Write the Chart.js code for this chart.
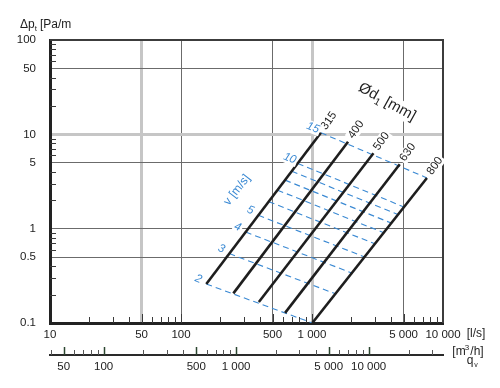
<!DOCTYPE html>
<html>
<head>
<meta charset="utf-8">
<script src="https://cdn.jsdelivr.net/npm/chart.js@4.4.1/dist/chart.umd.min.js"></script>
<style>
  html, body { margin: 0; padding: 0; background: #fff; }
  canvas { display: block; }
</style>
</head>
<body>
<canvas id="chart" width="500" height="388"></canvas>
<script>
// ── Axis ticks ────────────────────────────────────────────────────────────────
const flowTicks      = [10, 50, 100, 500, 1000, 5000, 10000];            // l/s
const flowTickLabels = ["10", "50", "100", "500", "1 000", "5 000", "10 000"];
const flowMinor      = [20, 30, 40, 60, 70, 80, 90, 200, 300, 400, 600, 700, 800, 900,
                        2000, 3000, 4000, 6000, 7000, 8000, 9000];
const dpTicks        = [0.1, 0.5, 1, 5, 10, 50, 100];                     // Pa/m
const dpTickLabels   = ["0.1", "0.5", "1", "5", "10", "50", "100"];
const dpMinor        = [0.2, 0.3, 0.4, 0.6, 0.7, 0.8, 0.9, 2, 3, 4, 6, 7, 8, 9,
                        20, 30, 40, 60, 70, 80, 90];
const m3hTicks       = [50, 100, 500, 1000, 5000, 10000];                 // m³/h
const m3hTickLabels  = ["50", "100", "500", "1 000", "5 000", "10 000"];
const m3hMinor       = [40, 60, 70, 80, 90, 200, 300, 400, 600, 700, 800, 900,
                        2000, 3000, 4000, 6000, 7000, 8000, 9000, 20000, 30000];

// ── Duct lines (one per diameter, from v = 2 m/s to v = 15 m/s) ───────────────
const diameters = [315, 400, 500, 630, 800];                // mm
const qAtV2     = [156, 251, 393, 623, 1005];               // l/s
const qAtV15    = [1169, 1885, 2945, 4676, 7540];
const dpAtV2    = [0.259, 0.206, 0.167, 0.128, 0.1];        // Pa/m
const dpAtV15   = [10.4, 8.36, 6.29, 4.81, 3.45];

// ── Velocity lines (dashed, from the Ø315 line to the Ø800 line) ──────────────
const velocities = [2, 3, 4, 5, 6, 7, 8, 9, 10, 15];        // m/s
const q315       = [156, 234, 312, 390, 468, 546, 623, 701, 779, 1169];
const dp315      = [0.259, 0.544, 0.921, 1.385, 1.934, 2.56, 3.27, 4.06, 4.92, 10.4];
const q800       = [1005, 1508, 2011, 2513, 3016, 3519, 4021, 4524, 5027, 7540];
const dp800      = [0.1, 0.204, 0.339, 0.502, 0.691, 0.907, 1.147, 1.412, 1.70, 3.45];
const labelledVelocities = [2, 3, 4, 5, 10, 15];

const FONT  = "'Liberation Sans', Arial, Helvetica, sans-serif";
const BLUE  = "#3a89d3";
const INK   = "#1e1e1e";
const GRID_DARK  = "#6b6b6b";
const GRID_LIGHT = "#c6c6c6";
const lightFlowGrid = [50, 1000];
const lightDpGrid   = [10];

function gridColour(ctx, edges, light) {
  if (!ctx.tick) return "transparent";
  const v = ctx.tick.value;
  if (edges.includes(v)) return "transparent";
  return light.includes(v) ? GRID_LIGHT : GRID_DARK;
}
function gridWidth(ctx, light) {
  return ctx.tick && light.includes(ctx.tick.value) ? 3 : 1;
}

/** Text with a white box behind it, rotated about its centre. */
function haloText(ctx, text, x, y, angle, font, colour) {
  ctx.save();
  ctx.translate(x, y);
  ctx.rotate(angle);
  ctx.font = font;
  ctx.textAlign = "center";
  ctx.textBaseline = "middle";
  const w = ctx.measureText(text).width;
  ctx.fillStyle = "#fff";
  ctx.fillRect(-w / 2 - 1.5, -6, w + 3, 12);
  ctx.fillStyle = colour;
  ctx.fillText(text, 0, 0);
  ctx.restore();
}

function tickLine(ctx, x1, y1, x2, y2) {
  ctx.beginPath(); ctx.moveTo(x1, y1); ctx.lineTo(x2, y2); ctx.stroke();
}

const decorations = {
  id: "decorations",
  beforeDatasetsDraw(chart) {
    const { ctx, chartArea: a, scales } = chart;
    ctx.save();
    // top & right frame
    ctx.strokeStyle = "#3c3c3c";
    ctx.lineWidth = 2;
    ctx.beginPath();
    ctx.moveTo(a.left, a.top); ctx.lineTo(a.right, a.top); ctx.lineTo(a.right, a.bottom);
    ctx.stroke();

    // inner ticks on the l/s axis
    ctx.strokeStyle = "#3a3a3a";
    ctx.lineWidth = 1;
    flowMinor.forEach(v => {
      const x = Math.round(scales.x.getPixelForValue(v)) + 0.5;
      tickLine(ctx, x, a.bottom, x, a.bottom - 6);
    });
    flowTicks.slice(1, -1).forEach(v => {
      const x = Math.round(scales.x.getPixelForValue(v)) + 0.5;
      tickLine(ctx, x, a.bottom, x, a.bottom - 9);
    });
    // inner ticks on the Pa/m axis
    dpMinor.forEach(v => {
      const y = Math.round(scales.y.getPixelForValue(v)) + 0.5;
      tickLine(ctx, a.left, y, a.left + 6, y);
    });
    // ticks on the m³/h axis, pointing up
    const top = scales.x2.top;
    ctx.strokeStyle = "#555";
    m3hMinor.forEach(v => {
      const x = Math.round(scales.x2.getPixelForValue(v)) + 0.5;
      tickLine(ctx, x, top, x, top - 5);
    });
    ctx.strokeStyle = "#2c4630";
    ctx.lineWidth = 1.5;
    m3hTicks.forEach(v => {
      const x = Math.round(scales.x2.getPixelForValue(v)) + 0.5;
      tickLine(ctx, x, top, x, top - 8);
    });
    ctx.restore();
  },
  afterDatasetsDraw(chart) {
    const { ctx, chartArea: a, scales } = chart;
    const px = v => scales.x.getPixelForValue(v);
    const py = v => scales.y.getPixelForValue(v);

    // diameter labels at the top of each duct line
    diameters.forEach((d, i) => {
      haloText(ctx, String(d), px(qAtV15[i]) + 8, py(dpAtV15[i]) - 12,
               -55 * Math.PI / 180, `11.5px ${FONT}`, INK);
    });
    // velocity labels left of the Ø315 line
    labelledVelocities.forEach(v => {
      const i = velocities.indexOf(v);
      haloText(ctx, String(v), px(q315[i]) - 8, py(dp315[i]) - 5,
               22 * Math.PI / 180, `italic 11.5px ${FONT}`, BLUE);
    });
    // "v [m/s]"
    ctx.save();
    ctx.translate(px(268), py(2.57));
    ctx.rotate(-52 * Math.PI / 180);
    ctx.font = `12px ${FONT}`;
    ctx.fillStyle = BLUE;
    ctx.textAlign = "center";
    ctx.textBaseline = "middle";
    ctx.fillText("v [m/s]", 0, 0);
    ctx.restore();

    // "Ød1 [mm]"
    ctx.save();
    ctx.translate(px(3740), py(22));
    ctx.rotate(29 * Math.PI / 180);
    ctx.textBaseline = "middle";
    const big = `15px ${FONT}`, small = `10px ${FONT}`;
    ctx.font = big;   const w1 = ctx.measureText("Ød").width, w3 = ctx.measureText(" [mm]").width;
    ctx.font = small; const w2 = ctx.measureText("1").width;
    let x = -(w1 + w2 + w3) / 2;
    ctx.fillStyle = "#fff";
    ctx.fillRect(x - 2, -9, w1 + w2 + w3 + 4, 18);
    ctx.fillStyle = INK;
    ctx.font = big;   ctx.fillText("Ød", x, 0); x += w1;
    ctx.font = small; ctx.fillText("1", x, 5); x += w2;
    ctx.font = big;   ctx.fillText(" [mm]", x, 0);
    ctx.restore();

    // axis titles
    ctx.save();
    ctx.fillStyle = INK;
    ctx.textBaseline = "alphabetic";
    ctx.font = `12px ${FONT}`;
    ctx.textAlign = "left";
    let tx = a.left - 30;
    ctx.fillText("Δp", tx, 28); tx += ctx.measureText("Δp").width;
    ctx.font = `8px ${FONT}`;
    ctx.fillText("t", tx, 31); tx += ctx.measureText("t").width + 3;
    ctx.font = `12px ${FONT}`;
    ctx.fillText("[Pa/m", tx, 28);

    ctx.textAlign = "center";
    ctx.textBaseline = "middle";
    ctx.fillText("[l/s]", a.right + 33, scales.x.top + 11);
    ctx.fillText("[m", a.right + 16, scales.x2.top - 3);
    ctx.font = `8px ${FONT}`;
    ctx.fillText("3", a.right + 24, scales.x2.top - 7);
    ctx.font = `12px ${FONT}`;
    ctx.fillText("/h]", a.right + 34, scales.x2.top - 3);
    ctx.fillText("q", a.right + 27, scales.x2.top + 6);
    ctx.font = `7px ${FONT}`;
    ctx.fillText("v", a.right + 33, scales.x2.top + 10);
    ctx.restore();
  },
};

const ductDatasets = diameters.map((d, i) => ({
  label: `Ø${d}`,
  data: [{ x: qAtV2[i], y: dpAtV2[i] }, { x: qAtV15[i], y: dpAtV15[i] }],
  showLine: true,
  borderColor: INK,
  borderWidth: 2.6,
  pointRadius: 0,
  order: 0,
}));

const velocityDatasets = velocities.map((v, i) => ({
  label: `${v} m/s`,
  data: [{ x: q315[i], y: dp315[i] }, { x: q800[i], y: dp800[i] }],
  showLine: true,
  borderColor: BLUE,
  borderWidth: 1.1,
  borderDash: [6, 4],
  pointRadius: 0,
  order: 1,
}));

const tickFont = { family: FONT, size: 11.5 };

new Chart(document.getElementById("chart"), {
  type: "scatter",
  data: { datasets: [...ductDatasets, ...velocityDatasets] },
  options: {
    responsive: false,
    animation: false,
    layout: { padding: { top: 40, right: 57, left: 0, bottom: 0 } },
    plugins: { legend: { display: false }, tooltip: { enabled: false } },
    scales: {
      x: {
        type: "logarithmic",
        position: "bottom",
        weight: 0,
        min: 10,
        max: 10000,
        afterBuildTicks: s => { s.ticks = flowTicks.map(v => ({ value: v })); },
        afterFit: s => { s.height = 32; },
        ticks: {
          autoSkip: false, maxRotation: 0, padding: 5, color: "#222", font: tickFont,
          callback: v => flowTickLabels[flowTicks.indexOf(v)],
        },
        grid: {
          drawTicks: false,
          color: c => gridColour(c, [10, 10000], lightFlowGrid),
          lineWidth: c => gridWidth(c, lightFlowGrid),
        },
        border: { color: "#222", width: 3 },
      },
      x2: {
        type: "logarithmic",
        position: "bottom",
        weight: 1,
        min: 39.4,
        max: 36400,
        afterBuildTicks: s => { s.ticks = m3hTicks.map(v => ({ value: v })); },
        afterFit: s => { s.height = 33; },
        ticks: {
          autoSkip: false, maxRotation: 0, padding: 5, color: "#222", font: tickFont,
          callback: v => m3hTickLabels[m3hTicks.indexOf(v)],
        },
        grid: { drawTicks: false, drawOnChartArea: false },
        border: { color: "#2a2a2a", width: 2 },
      },
      y: {
        type: "logarithmic",
        position: "left",
        min: 0.1,
        max: 100,
        afterBuildTicks: s => { s.ticks = dpTicks.map(v => ({ value: v })); },
        afterFit: s => { s.width = 50; },
        ticks: {
          autoSkip: false, padding: 14, color: "#222", font: tickFont,
          callback: v => dpTickLabels[dpTicks.indexOf(v)],
        },
        grid: {
          drawTicks: false,
          color: c => gridColour(c, [0.1, 100], lightDpGrid),
          lineWidth: c => gridWidth(c, lightDpGrid),
        },
        border: { color: "#222", width: 3 },
      },
    },
  },
  plugins: [decorations],
});
</script>
</body>
</html>
